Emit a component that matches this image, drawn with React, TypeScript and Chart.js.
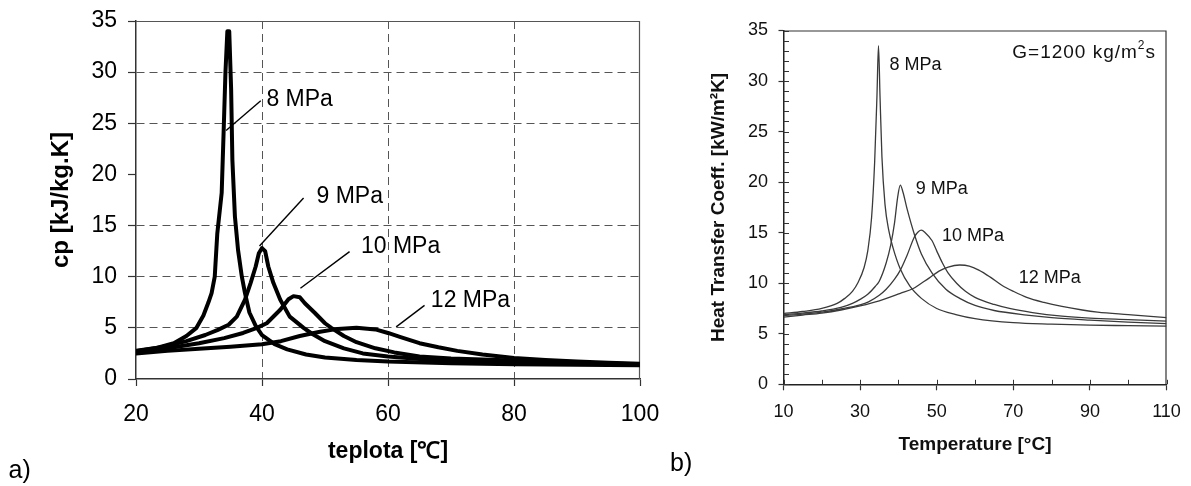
import React, { useEffect, useRef } from 'react';
import { Chart, registerables } from 'chart.js';

Chart.register(...registerables);

const FONT = "'Liberation Sans', Arial, Helvetica, sans-serif";

// ---------- a) specific heat cp [kJ/kg.K] vs temperature ----------
const seriesNames = ['8 MPa', '9 MPa', '10 MPa', '12 MPa'];

const tempA8 = [20, 23, 26, 28, 29.6, 30.7, 31.5, 32.0, 32.5, 32.9, 33.6, 33.9, 34.2, 34.5, 34.8, 35.1, 35.3, 35.7, 36.2, 36.8, 37.3, 38, 39, 40, 42, 44, 47, 50, 55, 60, 70, 80, 90, 100];
const cpA8 = [2.7, 3.0, 3.5, 4.2, 5.0, 6.2, 7.5, 8.4, 10.0, 14.2, 18.2, 24.0, 30.0, 34.0, 34.0, 28.3, 21.4, 15.9, 12.6, 10.0, 8.4, 6.5, 5.2, 4.3, 3.4, 2.9, 2.4, 2.1, 1.85, 1.7, 1.55, 1.45, 1.4, 1.35];

const tempA9 = [20, 24, 28, 31, 33, 34.7, 36.0, 37.3, 38.2, 39.0, 39.5, 40.0, 40.5, 41.0, 41.8, 42.9, 44.4, 46.6, 48, 50, 53, 56, 60, 65, 70, 80, 90, 100];
const cpA9 = [2.75, 3.1, 3.7, 4.3, 4.8, 5.3, 6.1, 7.75, 9.4, 11.0, 12.3, 12.8, 12.5, 11.0, 9.4, 7.75, 6.1, 5.0, 4.4, 3.7, 3.0, 2.5, 2.2, 1.95, 1.8, 1.6, 1.5, 1.4];

const tempA10 = [20, 25, 30, 34, 37, 39.2, 40.75, 42.9, 44.2, 45.0, 46.0, 46.8, 48.4, 50.0, 51, 53, 55, 58, 61, 65, 70, 80, 90, 100];
const cpA10 = [2.6, 3.0, 3.5, 4.0, 4.5, 5.0, 5.45, 6.77, 7.8, 8.1, 8.0, 7.4, 6.45, 5.45, 5.0, 4.2, 3.6, 3.0, 2.6, 2.2, 2.0, 1.8, 1.6, 1.45];

const tempA12 = [20, 25, 30, 35, 40, 43, 46, 49, 52, 55, 58, 60, 62, 65, 68, 71, 75, 80, 85, 90, 95, 100];
const cpA12 = [2.5, 2.75, 2.95, 3.15, 3.4, 3.7, 4.2, 4.6, 4.9, 5.0, 4.85, 4.5, 4.1, 3.5, 3.1, 2.75, 2.4, 2.05, 1.85, 1.7, 1.6, 1.5];

const xRangeA = [20, 100];
const yRangeA = [0, 35];

// ---------- b) heat transfer coefficient [kW/m2K] vs temperature ----------
const tempB8 = [10, 15, 20, 24, 26, 28, 29.5, 31, 32, 33, 33.8, 34.4, 34.8, 35.2, 35.7, 36.5, 37.5, 38.6, 40.5, 43, 46, 50, 55, 60, 70, 80, 90, 100, 110];
const htcB8 = [7.0, 7.2, 7.5, 8.0, 8.5, 9.2, 10.1, 11.5, 13.2, 16.5, 22, 28.5, 33.5, 28.5, 22.5, 17.8, 15.2, 13.5, 11.4, 9.7, 8.5, 7.5, 6.9, 6.5, 6.1, 5.95, 5.85, 5.8, 5.75];

const tempB9 = [10, 15, 20, 25, 28, 30, 32, 34, 35, 36.8, 38, 39, 39.8, 40.5, 41.2, 42.3, 44.2, 46, 48.8, 52.4, 56, 60, 65, 73.5, 80, 90, 100, 110];
const htcB9 = [6.9, 7.05, 7.25, 7.6, 8.0, 8.4, 8.9, 9.7, 10.2, 12.0, 13.8, 16.0, 18.5, 19.7, 19.0, 17.3, 14.8, 12.9, 11.0, 9.4, 8.5, 7.8, 7.3, 6.85, 6.6, 6.35, 6.15, 6.0];

const tempB10 = [10, 15, 20, 25, 30, 32.2, 35, 36.8, 39, 40.5, 42.3, 44.2, 45.2, 46, 47, 48.8, 50, 51.5, 53, 55.2, 57.5, 60, 65, 69, 75, 82.7, 90, 100, 110];
const htcB10 = [6.8, 6.95, 7.15, 7.45, 7.85, 8.15, 8.8, 9.4, 10.4, 11.3, 12.8, 14.6, 15.1, 15.25, 15.0, 14.2, 13.2, 12.0, 11.0, 10.0, 9.2, 8.6, 7.9, 7.5, 7.1, 6.75, 6.55, 6.4, 6.25];

const tempB12 = [10, 15, 20, 25, 30, 35, 40.5, 44, 46, 48, 50.6, 53, 56, 58.5, 61, 64, 67, 70, 73.5, 78, 82.7, 88, 92, 100, 110];
const htcB12 = [6.65, 6.85, 7.05, 7.35, 7.75, 8.25, 9.0, 9.5, 10.0, 10.5, 11.2, 11.6, 11.8, 11.7, 11.3, 10.6, 9.8, 9.2, 8.6, 8.1, 7.7, 7.35, 7.15, 6.9, 6.6];

const xRangeB = [10, 110];
const yRangeB = [0, 35];
const flowText = 'G=1200 kg/m';

// annotation anchors (data units)
type Note = { text: string; x: number; y: number; lx1?: number; ly1?: number; lx2?: number; ly2?: number };
const notesA: Note[] = [
  { text: seriesNames[0], x: 40.7, y: 27.3, lx1: 34.3, ly1: 24.3, lx2: 39.8, ly2: 27.2 },
  { text: seriesNames[1], x: 48.65, y: 17.8, lx1: 39.6, ly1: 13.0, lx2: 46.6, ly2: 17.7 },
  { text: seriesNames[2], x: 55.7, y: 12.9, lx1: 46.1, ly1: 8.87, lx2: 53.9, ly2: 12.45 },
  { text: seriesNames[3], x: 66.8, y: 7.7, lx1: 61.3, ly1: 5.1, lx2: 65.8, ly2: 7.2 },
];
const notesB: Note[] = [
  { text: seriesNames[0], x: 37.7, y: 31.6 },
  { text: seriesNames[1], x: 44.5, y: 19.3 },
  { text: seriesNames[2], x: 51.4, y: 14.7 },
  { text: seriesNames[3], x: 71.4, y: 10.5 },
];
const flowNote = { x: 88.5, y: 32.8 };

const toXY = (xs: number[], ys: number[]) => xs.map((x, i) => ({ x, y: ys[i] }));

const plugA = {
  id: 'plugA',
  beforeDatasetsDraw(chart: any) {
    const { ctx, chartArea } = chart;
    const { left, right, top, bottom } = chartArea;
    ctx.save();
    ctx.strokeStyle = '#555';
    ctx.lineWidth = 1.2;
    ctx.beginPath();
    ctx.moveTo(left, top + 0.5);
    ctx.lineTo(right, top + 0.5);
    ctx.moveTo(right - 0.5, top);
    ctx.lineTo(right - 0.5, bottom);
    ctx.stroke();
    ctx.restore();
  },
  afterDatasetsDraw(chart: any) {
    const { ctx, scales } = chart;
    const xs = scales.x, ys = scales.y;
    ctx.save();
    ctx.strokeStyle = '#000';
    ctx.lineWidth = 1.4;
    ctx.fillStyle = '#000';
    ctx.font = `23px ${FONT}`;
    ctx.textAlign = 'left';
    ctx.textBaseline = 'middle';
    notesA.forEach((n) => {
      ctx.beginPath();
      ctx.moveTo(xs.getPixelForValue(n.lx1), ys.getPixelForValue(n.ly1));
      ctx.lineTo(xs.getPixelForValue(n.lx2), ys.getPixelForValue(n.ly2));
      ctx.stroke();
      ctx.fillText(n.text, xs.getPixelForValue(n.x), ys.getPixelForValue(n.y));
    });
    ctx.restore();
  },
};

const plugB = {
  id: 'plugB',
  beforeDatasetsDraw(chart: any) {
    const { ctx, chartArea, scales } = chart;
    const { left, right, top, bottom } = chartArea;
    ctx.save();
    ctx.strokeStyle = '#333';
    ctx.lineWidth = 1.2;
    ctx.beginPath();
    ctx.moveTo(left, top + 0.5);
    ctx.lineTo(right, top + 0.5);
    ctx.moveTo(right - 0.5, top);
    ctx.lineTo(right - 0.5, bottom);
    ctx.stroke();
    // inner ticks
    ctx.strokeStyle = '#333';
    ctx.lineWidth = 1;
    ctx.beginPath();
    for (let v = yRangeB[0]; v <= yRangeB[1]; v += 1) {
      const py = Math.round(scales.y.getPixelForValue(v)) + 0.5;
      ctx.moveTo(left, py);
      ctx.lineTo(left + 5.5, py);
    }
    for (let v = xRangeB[0]; v <= xRangeB[1]; v += 10) {
      const px = Math.round(scales.x.getPixelForValue(v)) + 0.5;
      ctx.moveTo(px, bottom);
      ctx.lineTo(px, bottom - 4.5);
    }
    ctx.stroke();
    ctx.restore();
  },
  afterDatasetsDraw(chart: any) {
    const { ctx, scales } = chart;
    const xs = scales.x, ys = scales.y;
    ctx.save();
    ctx.fillStyle = '#111';
    ctx.font = `18px ${FONT}`;
    ctx.textAlign = 'left';
    ctx.textBaseline = 'middle';
    notesB.forEach((n) => {
      ctx.fillText(n.text, xs.getPixelForValue(n.x), ys.getPixelForValue(n.y));
    });
    // G=1200 kg/m²s
    const cx = xs.getPixelForValue(flowNote.x);
    const cy = ys.getPixelForValue(flowNote.y);
    try { (ctx as any).letterSpacing = '1px'; } catch (e) { /* ignore */ }
    ctx.font = `19px ${FONT}`;
    const w1 = ctx.measureText(flowText).width;
    const w3 = ctx.measureText('s').width;
    ctx.font = `12px ${FONT}`;
    const w2 = ctx.measureText('2').width;
    const start = cx - (w1 + w2 + w3) / 2;
    ctx.font = `19px ${FONT}`;
    ctx.fillText(flowText, start, cy);
    ctx.fillText('s', start + w1 + w2, cy);
    ctx.font = `12px ${FONT}`;
    ctx.fillText('2', start + w1, cy - 7);
    ctx.restore();
  },
};

function ChartA() {
  const ref = useRef<HTMLCanvasElement>(null);
  useEffect(() => {
    const mk = (xs: number[], ys: number[], i: number) => ({
      label: seriesNames[i],
      data: toXY(xs, ys),
      borderColor: '#000',
      borderWidth: 4,
      pointRadius: 0,
      tension: 0,
      borderJoinStyle: 'round' as const,
      borderCapStyle: 'round' as const,
      fill: false,
    });
    const gridColor = (c: any) => {
      const v = c.tick ? c.tick.value : null;
      return v === xRangeA[0] || v === xRangeA[1] || v === yRangeA[0] || v === yRangeA[1] ? 'rgba(0,0,0,0)' : '#555';
    };
    const chart = new Chart(ref.current as HTMLCanvasElement, {
      type: 'line',
      data: {
        datasets: [mk(tempA8, cpA8, 0), mk(tempA9, cpA9, 1), mk(tempA10, cpA10, 2), mk(tempA12, cpA12, 3)],
      },
      options: {
        animation: false,
        responsive: false,
        devicePixelRatio: 1,
        events: [],
        layout: { padding: { top: 21, right: 60, left: 0, bottom: 0 } },
        plugins: { legend: { display: false }, tooltip: { enabled: false } },
        scales: {
          x: {
            type: 'linear',
            min: xRangeA[0],
            max: xRangeA[1],
            ticks: { stepSize: 20, color: '#000', font: { family: FONT, size: 23 }, padding: 15, maxRotation: 0, autoSkip: false },
            grid: { color: gridColor, lineWidth: 1, tickLength: 7, tickColor: '#333', tickWidth: 1.2 },
            border: { display: true, color: '#333', width: 1.5, dash: [8, 5] },
            title: { display: true, text: 'teplota [℃]', color: '#000', font: { family: FONT, size: 23, weight: 'bold' }, padding: { top: 0, bottom: 20.5 } },
            afterFit: (s: any) => { s.height = 107; s.paddingLeft = 0; s.paddingRight = 0; },
          },
          y: {
            type: 'linear',
            min: yRangeA[0],
            max: yRangeA[1],
            ticks: { stepSize: 5, color: '#000', font: { family: FONT, size: 23 }, padding: 11, autoSkip: false },
            grid: { color: gridColor, lineWidth: 1, tickLength: 8, tickColor: '#333', tickWidth: 1.2 },
            border: { display: true, color: '#333', width: 1.5, dash: [8, 5] },
            title: { display: true, text: 'cp [kJ/kg.K]', color: '#000', font: { family: FONT, size: 24, weight: 'bold' }, padding: { top: 46.5, bottom: 0 } },
            afterFit: (s: any) => { s.width = 136; s.paddingTop = 0; s.paddingBottom = 0; },
          },
        },
      } as any,
      plugins: [plugA],
    });
    return () => chart.destroy();
  }, []);
  return <canvas ref={ref} width={700} height={486} style={{ position: 'absolute', left: 0, top: 0 }} />;
}

function ChartB() {
  const ref = useRef<HTMLCanvasElement>(null);
  useEffect(() => {
    const mk = (xs: number[], ys: number[], i: number) => ({
      label: seriesNames[i],
      data: toXY(xs, ys),
      borderColor: '#3a3a3a',
      borderWidth: 1.3,
      pointRadius: 0,
      cubicInterpolationMode: 'monotone' as const,
      fill: false,
    });
    const chart = new Chart(ref.current as HTMLCanvasElement, {
      type: 'line',
      data: {
        datasets: [mk(tempB8, htcB8, 0), mk(tempB9, htcB9, 1), mk(tempB10, htcB10, 2), mk(tempB12, htcB12, 3)],
      },
      options: {
        animation: false,
        responsive: false,
        devicePixelRatio: 1,
        events: [],
        layout: { padding: { top: 30.5, right: 24.5, left: 0, bottom: 0 } },
        plugins: { legend: { display: false }, tooltip: { enabled: false } },
        scales: {
          x: {
            type: 'linear',
            min: xRangeB[0],
            max: xRangeB[1],
            ticks: { stepSize: 20, color: '#111', font: { family: FONT, size: 18 }, padding: 10.6, maxRotation: 0, autoSkip: false },
            grid: { drawOnChartArea: false, tickLength: 6, tickColor: '#333', tickWidth: 1.2 },
            border: { display: true, color: '#222', width: 1.5 },
            title: { display: true, text: 'Temperature [°C]', color: '#111', font: { family: FONT, size: 19, weight: 'bold' }, padding: { top: 0, bottom: 29.6 } },
            afterFit: (s: any) => { s.height = 101.7; s.paddingLeft = 0; s.paddingRight = 0; },
          },
          y: {
            type: 'linear',
            min: yRangeB[0],
            max: yRangeB[1],
            ticks: { stepSize: 5, color: '#111', font: { family: FONT, size: 18 }, padding: 10.5, autoSkip: false },
            grid: { drawOnChartArea: false, tickLength: 5, tickColor: '#333', tickWidth: 1.2 },
            border: { display: true, color: '#222', width: 1.5 },
            title: { display: true, text: 'Heat Transfer Coeff. [kW/m²K]', color: '#111', font: { family: FONT, size: 19, weight: 'bold' }, padding: { top: 47.6, bottom: 0 } },
            afterFit: (s: any) => { s.width = 123.5; s.paddingTop = 0; s.paddingBottom = 0; },
          },
        },
      } as any,
      plugins: [plugB],
    });
    return () => chart.destroy();
  }, []);
  return <canvas ref={ref} width={531} height={486} style={{ position: 'absolute', left: 660, top: 0 }} />;
}

export default function App() {
  return (
    <div style={{ position: 'fixed', left: 0, top: 0, width: 1191, height: 486, background: '#fff', overflow: 'hidden' }}>
      <ChartA />
      <ChartB />
      <div style={{ position: 'absolute', left: 8.5, top: 456, font: `25px ${FONT}`, lineHeight: '27px', color: '#000' }}>a)</div>
      <div style={{ position: 'absolute', left: 670, top: 449, font: `25px ${FONT}`, lineHeight: '27px', color: '#000' }}>b)</div>
    </div>
  );
}
